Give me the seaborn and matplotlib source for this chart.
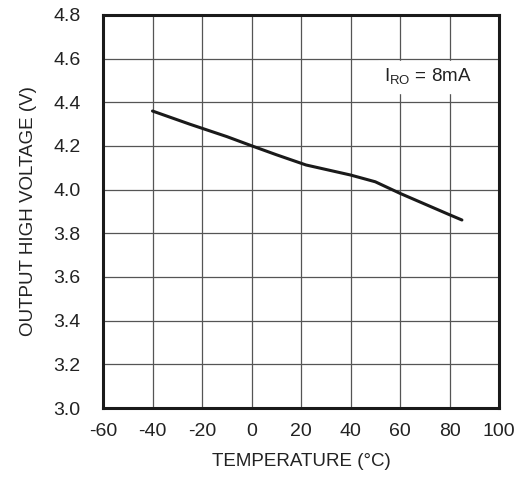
import matplotlib.pyplot as plt
import seaborn as sns
import pandas as pd

# data
temp = [-40, -25, -10, 0, 10, 22, 40, 50, 60, 70, 80, 85]
vout = [4.36, 4.30, 4.243, 4.201, 4.16, 4.113, 4.067, 4.036, 3.983, 3.934, 3.885, 3.861]
x_ticks = [-60, -40, -20, 0, 20, 40, 60, 80, 100]
y_ticks = [3.0, 3.2, 3.4, 3.6, 3.8, 4.0, 4.2, 4.4, 4.6, 4.8]

df = pd.DataFrame({'temp': temp, 'vout': vout})

sns.set_style("white")
plt.rcParams['font.family'] = ['Liberation Sans', 'DejaVu Sans']
plt.rcParams['font.size'] = 12

fig = plt.figure(figsize=(5.15, 4.82), dpi=100)
ax = fig.add_axes([0.2, 0.1535, 0.769, 0.8155])

sns.lineplot(data=df, x='temp', y='vout', color='#1a1a1a', linewidth=2.2, ax=ax)

ax.set_xlim(-60, 100)
ax.set_ylim(3.0, 4.8)
ax.set_xticks(x_ticks)
ax.set_yticks(y_ticks)
ax.set_xticklabels([str(t) for t in x_ticks])
ax.set_yticklabels(['%.1f' % t for t in y_ticks])
ax.tick_params(length=0, labelsize=14, colors='#222222')
ax.tick_params(axis='y', pad=16)
ax.tick_params(axis='x', pad=11)
ax.grid(True, color='#555555', linewidth=0.9)
for s in ax.spines.values():
    s.set_visible(True)
    s.set_linewidth(2.2)
    s.set_color('#1a1a1a')

ax.set_xlabel('TEMPERATURE (°C)', fontsize=13.5, color='#222222', labelpad=9)
ax.set_ylabel('OUTPUT HIGH VOLTAGE (V)', fontsize=13.5, color='#222222', labelpad=12)

ax.text(53.5, 4.515, 'I$_{\\mathregular{RO}}$ = 8mA', fontsize=13.5, color='#222222',
        va='center', ha='left', backgroundcolor='white')

fig.savefig('out.png', dpi=100)
